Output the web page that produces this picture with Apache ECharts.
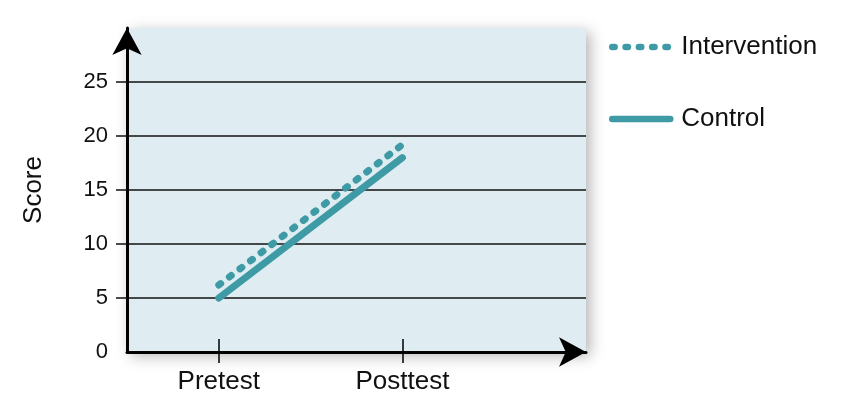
<!DOCTYPE html>
<html>
<head>
<meta charset="utf-8">
<script src="https://cdn.jsdelivr.net/npm/echarts@6/dist/echarts.min.js"></script>
<style>
  html, body { margin: 0; padding: 0; background: #fff; }
  #chart { width: 848px; height: 410px; }
</style>
</head>
<body>
<div id="chart"></div>
<script>
// data
const phases = ['Pretest', 'Posttest'];
const intervention = [6.2, 19.2];
const control = [5, 18];
const yLabels = [0, 5, 10, 15, 20, 25];
const yGridLines = [5, 10, 15, 20, 25];

const teal = '#3e9ba5';
const font = '"Liberation Sans", Arial, sans-serif';

const toPoints = vals => vals.map((v, i) => [i, v]);

const chart = echarts.init(document.getElementById('chart'));

chart.setOption({
  animation: false,
  textStyle: { fontFamily: font, color: '#111' },
  grid: {
    left: 127,
    right: 262,
    top: 28,
    bottom: 58,
    show: true,
    borderWidth: 0,
    backgroundColor: '#dfedf2',
    shadowBlur: 14,
    shadowColor: 'rgba(0,0,0,0.3)',
    shadowOffsetX: 4,
    shadowOffsetY: 4
  },
  legend: {
    orient: 'vertical',
    left: 604,
    top: 29,
    itemWidth: 58,
    itemHeight: 14,
    itemGap: 46,
    itemStyle: { opacity: 0 },
    lineStyle: { width: 6.5, cap: 'round' },
    textStyle: { fontSize: 26, color: '#111', fontFamily: font, padding: [0, 0, 0, 6] },
    data: ['Intervention', 'Control']
  },
  xAxis: [{
    type: 'value',
    min: -0.5,
    max: 2,
    interval: 0.5,
    axisLine: {
      show: true,
      onZero: false,
      symbol: ['none', 'arrow'],
      symbolSize: [22, 27],
      lineStyle: { color: '#000', width: 3 }
    },
    axisTick: {
      show: true,
      inside: true,
      length: 13,
      customValues: [0, 1],
      lineStyle: { color: '#000', width: 1.5 }
    },
    axisLabel: {
      customValues: [0, 1],
      formatter: v => phases[Math.round(v)] || '',
      fontSize: 26,
      color: '#111',
      margin: 17
    },
    splitLine: { show: false }
  }, {
    type: 'value',
    position: 'bottom',
    min: -0.5,
    max: 2,
    interval: 0.5,
    axisLine: { show: false, onZero: false },
    axisTick: {
      show: true,
      inside: false,
      length: 11,
      customValues: [0, 1],
      lineStyle: { color: '#000', width: 1.5 }
    },
    axisLabel: { show: false },
    splitLine: { show: false }
  }],
  yAxis: {
    type: 'value',
    min: 0,
    max: 30,
    interval: 5,
    name: 'Score',
    nameLocation: 'middle',
    nameGap: 80,
    nameTextStyle: { fontSize: 26, color: '#111', fontFamily: font },
    axisLine: {
      show: true,
      onZero: false,
      symbol: ['none', 'arrow'],
      symbolSize: [22, 27],
      lineStyle: { color: '#000', width: 3 }
    },
    axisTick: {
      show: true,
      length: 11,
      customValues: yGridLines,
      lineStyle: { color: '#111', width: 1.5 }
    },
    axisLabel: {
      customValues: yLabels,
      fontSize: 22,
      color: '#111',
      margin: 19
    },
    splitLine: {
      show: true,
      lineStyle: { color: '#111', width: 1.5 }
    }
  },
  series: [{
    name: 'Intervention',
    type: 'line',
    data: toPoints(intervention),
    symbol: 'none',
    color: teal,
    lineStyle: { color: teal, width: 7, type: [2.4, 10.9], cap: 'round' }
  }, {
    name: 'Control',
    type: 'line',
    data: toPoints(control),
    symbol: 'none',
    color: teal,
    lineStyle: { color: teal, width: 7, type: 'solid', cap: 'round' }
  }]
});
</script>
</body>
</html>
